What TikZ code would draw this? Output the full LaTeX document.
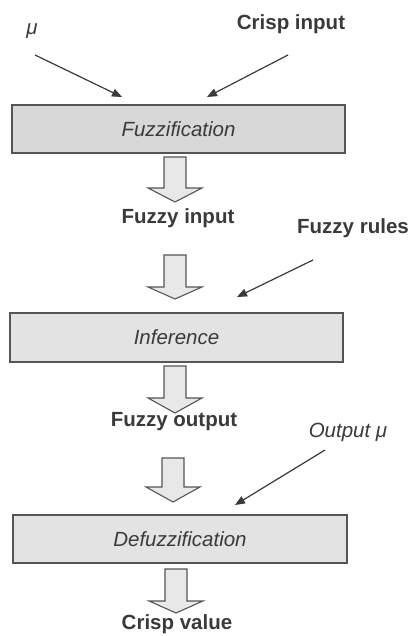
\documentclass[tikz,border=0pt]{standalone}
\usepackage{fontspec}
\setmainfont{Liberation Sans}
\usetikzlibrary{arrows.meta}
\definecolor{ink}{HTML}{3A3A3A}
\definecolor{edge}{HTML}{555555}
\definecolor{boxfill}{HTML}{D8D8D8}
\definecolor{boxfilllight}{HTML}{E3E3E3}
\definecolor{arrfill}{HTML}{E8E8E8}
\tikzset{
  lbl/.style={font=\fontsize{20.5}{24}\selectfont\bfseries, text=ink, inner sep=0pt},
  ilbl/.style={font=\fontsize{20.5}{24}\selectfont\itshape, text=ink, inner sep=0pt},
  procbox/.style={draw=edge, line width=1.3pt, fill=boxfill, inner sep=0pt,
    font=\fontsize{20.5}{24}\selectfont\itshape, text=ink},
  thinarrow/.style={draw=ink, line width=1.2pt, -{Triangle[length=10pt,width=8pt]}},
  barrow/.style={draw=edge, line width=1.1pt, fill=arrfill, line join=miter},
}
\newcommand\blockarr[4]{%
  \draw[barrow] ({#1-11},#2) -- ({#1+11},#2) -- ({#1+11},#3) -- ({#1+27},#3)
    -- (#1,#4) -- ({#1-27},#3) -- ({#1-11},#3) -- cycle;}
\begin{document}
\begin{tikzpicture}[x=1pt,y=-1pt]
  \useasboundingbox (0,0) rectangle (419,636);
  \fill[white] (0,0) rectangle (419,636);

  % labels
  \node[ilbl] (mu) at (32,31) {μ};
  \node[lbl] (crispin) at (291,24) {Crisp input};
  \node[lbl] (fuzzin) at (178,218) {Fuzzy input};
  \node[lbl] (rules) at (353,228) {Fuzzy rules};
  \node[lbl] (fuzzout) at (174,422) {Fuzzy output};
  \node[ilbl] (outmu) at (348,432) {Output μ};
  \node[lbl] (crispval) at (177,624) {Crisp value};

  % boxes
  \node[procbox, minimum width=333pt, minimum height=48pt] (fuzz) at (178.5,129) {Fuzzification};
  \node[procbox, fill=boxfilllight, minimum width=333pt, minimum height=49pt] (inf) at (176.5,337.5) {Inference};
  \node[procbox, fill=boxfilllight, minimum width=334pt, minimum height=48pt] (defuzz) at (180,539) {Defuzzification};

  % thin arrows
  \coordinate (a1s) at (35,55);  \coordinate (a1e) at (122,97);
  \coordinate (a2s) at (288,55); \coordinate (a2e) at (207,97);
  \coordinate (a3s) at (313,260); \coordinate (a3e) at (237,297);
  \coordinate (a4s) at (325,450); \coordinate (a4e) at (235,505);
  \draw[thinarrow] (a1s) -- (a1e);
  \draw[thinarrow] (a2s) -- (a2e);
  \draw[thinarrow] (a3s) -- (a3e);
  \draw[thinarrow] (a4s) -- (a4e);

  % block arrows
  \blockarr{175}{157}{188}{202}
  \blockarr{175}{255}{287}{299}
  \blockarr{175}{366}{398}{413}
  \blockarr{173}{458}{487}{502}
  \blockarr{176}{569}{601}{613}
\end{tikzpicture}
\end{document}
